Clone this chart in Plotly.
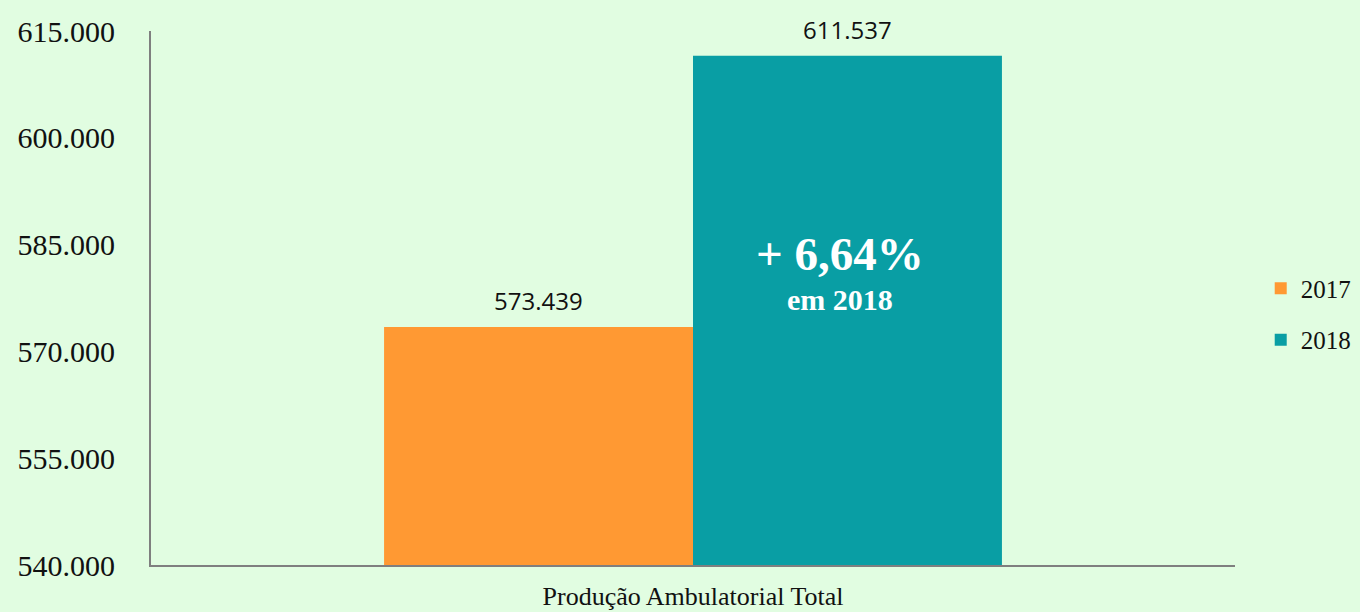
import plotly.graph_objects as go

categories = ["Produção Ambulatorial Total"]
years = ["2017", "2018"]
values_2017 = [573439]
values_2018 = [611537]
tick_vals = [540000, 555000, 570000, 585000, 600000, 615000]
growth_label = "+ 6,64%"
growth_sub = "em 2018"

colors = {"2017": "#FF9933", "2018": "#099EA4"}
serif = "Liberation Serif, DejaVu Serif, serif"
bargap = 0.43

fig = go.Figure()
for yr, vals in zip(years, [values_2017, values_2018]):
    fig.add_trace(go.Bar(
        x=categories, y=vals, name=yr, marker_color=colors[yr],
        marker_line_width=0, legendgroup=yr,
    ))

# value labels above bars (bar centres from group width)
half = (1 - bargap) / 4
offsets = {"2017": -half, "2018": half}
for yr, vals in zip(years, [values_2017, values_2018]):
    fig.add_annotation(
        x=0 + offsets[yr], y=vals[0], xref="x", yref="y",
        text=f"{vals[0]:,}".replace(",", "."), showarrow=False,
        yshift=26, font=dict(family="Liberation Sans Narrow, Open Sans, sans-serif", size=24, color="#111"),
    )

fig.add_annotation(x=half, y=values_2018[0], xref="x", yref="y", text=f"<b>{growth_label}</b>",
                   showarrow=False, yshift=-198, xshift=-7, font=dict(family=serif, size=47, color="white"))
fig.add_annotation(x=half, y=values_2018[0], xref="x", yref="y", text=f"<b>{growth_sub}</b>",
                   showarrow=False, yshift=-244, xshift=-7, font=dict(family=serif, size=30, color="white"))

fig.update_layout(
    width=1360, height=612,
    paper_bgcolor="#E1FDE1", plot_bgcolor="#E1FDE1",
    margin=dict(l=151, r=125, t=31, b=47, autoexpand=False),
    barmode="group", bargap=bargap, bargroupgap=0,
    separators=",.",
    showlegend=True,
    legend=dict(xref="container", yref="container", x=0.927, xanchor="left",
                y=0.487, yanchor="middle",
                font=dict(family=serif, size=25, color="#111"),
                traceorder="grouped", tracegroupgap=16, bgcolor="rgba(0,0,0,0)"),
    xaxis=dict(showline=True, linecolor="#7F7F7F", linewidth=2, showgrid=False,
               ticks="", tickfont=dict(family=serif, size=26, color="#111"),
               ticklabelstandoff=7, automargin=False),
    yaxis=dict(range=[540000, 615000], tickvals=tick_vals, tickformat=",.0f",
               showline=True, linecolor="#7F7F7F", linewidth=2, showgrid=False,
               zeroline=False, ticks="", ticklabelstandoff=28, automargin=False,
               tickfont=dict(family=serif, size=30, color="#111")),
)

fig.write_html("out.html", config={"displayModeBar": False},
               post_script="document.body.style.margin='0';document.body.style.overflow='hidden';")
